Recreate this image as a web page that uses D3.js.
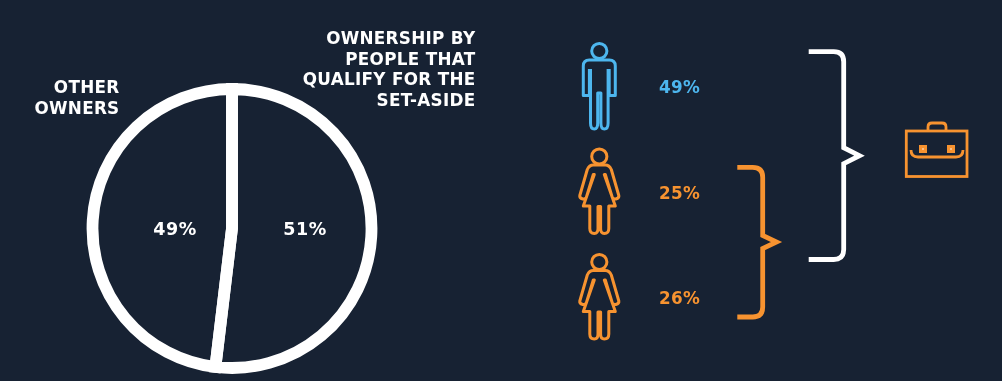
<!DOCTYPE html>
<html><head><meta charset="utf-8">
<script src="https://cdn.jsdelivr.net/npm/d3@7/dist/d3.min.js"></script>
<style>html,body{margin:0;padding:0;background:#172233;overflow:hidden}svg{display:block;filter:blur(0.35px)}text{font-family:"DejaVu Sans",sans-serif;font-weight:700}</style>
</head><body><svg id="c" width="1002" height="381"></svg>
<script>
// Ownership split: printed labels, and the shares as the slices are actually drawn
const pieCategories = ["Ownership by people that qualify for the set-aside", "Other owners"];
const pieLabels = ["51%", "49%"];
const pieDrawnShares = [51.9, 48.1];
const titleRight = ["OWNERSHIP BY", "PEOPLE THAT", "QUALIFY FOR THE", "SET-ASIDE"];
const titleLeft = ["OTHER", "OWNERS"];
// Breakdown of owners
const peopleKeys = ["a", "b", "c"];
const peopleKinds = ["man", "woman", "woman"];
const peopleValues = [49, 25, 26];

const BG = "#172233", WHITE = "#ffffff", ORANGE = "#f79330", BLUE = "#4db6ee";
const svg = d3.select("#c");
svg.append("rect").attr("width", 1002).attr("height", 381).attr("fill", BG);

// Pie
const pieG = svg.append("g").attr("transform", "translate(232,228.5)");
const pie = d3.pie().sort(null).value(d => d);
const arc = d3.arc().innerRadius(0).outerRadius(139.5);
const arcs = pie(pieDrawnShares);
pieG.selectAll("path").data(arcs).join("path")
  .attr("d", arc).attr("fill", "none").attr("stroke", WHITE)
  .attr("stroke-width", 11.8).attr("stroke-linejoin", "miter");
const labelX = d3.scaleOrdinal().domain(pieLabels).range([73, -57]);
pieG.selectAll("text").data(pieLabels).join("text")
  .attr("x", d => labelX(d)).attr("y", 6.5).attr("text-anchor", "middle")
  .attr("font-size", 17.5).attr("letter-spacing", 0.5).attr("fill", WHITE).text(d => d);

function block(lines, x, y0) {
  svg.append("g").selectAll("text").data(lines).join("text")
    .attr("x", x).attr("y", (d, i) => y0 + i * 20.5).attr("text-anchor", "end")
    .attr("font-size", 16.8).attr("letter-spacing", 0.3).attr("fill", WHITE).text(d => d);
}
block(titleRight, 475.5, 44);
block(titleLeft, 119.5, 93);

// People rows
const yRow = d3.scalePoint().domain(peopleKeys).range([87, 298]);
const icons = {
  man: "M-8.8,18V72Q-8.8,78 -5,78Q-1.6,78 -1.6,72V42H1.6V72Q1.6,78 5,78Q8.8,78 8.8,72V18M-9.9,18V44.5H-16V15Q-16,9 -10,9H10Q16,9 16,15V44.5H9.9V18",
  woman: "M-6,8.5H6Q10,8.5 12,13L19.5,39Q20,41.5 16.5,42.5Q14,43 13,41L6,18L5,18L16,49.5H9.5V72Q9.5,77 5,77Q1.3,77 1.3,72V50H-1.3V72Q-1.3,77 -5,77Q-9.5,77 -9.5,72V49.5H-16L-5,18L-6,18L-13,41Q-14,43 -16.5,42.5Q-20,41.5 -19.5,39L-12,13Q-10,8.5 -6,8.5Z"
};
const rows = svg.append("g").selectAll("g").data(peopleKeys).join("g")
  .attr("transform", k => `translate(0,${yRow(k)})`);
const color = (k, i) => peopleKinds[i] === "man" ? BLUE : ORANGE;
const iconG = rows.append("g").attr("transform", "translate(599.3,-36)")
  .attr("fill", "none").attr("stroke", color).attr("stroke-width", 3).attr("stroke-linejoin", "round");
iconG.append("circle").attr("r", 7.6);
iconG.append("path").attr("d", (k, i) => icons[peopleKinds[i]]);
rows.append("text").attr("x", 679.5).attr("y", 6).attr("text-anchor", "middle")
  .attr("font-size", 16.8).attr("letter-spacing", 0.3).attr("fill", color).text((k, i) => peopleValues[i] + "%");

// Braces
function brace(x0, x1, tip, y0, y1, ymid, h) {
  const r = 10;
  return `M${x0},${y0}H${x1 - r}Q${x1},${y0} ${x1},${y0 + r}V${ymid - h}L${tip},${ymid}L${x1},${ymid + h}V${y1 - r}Q${x1},${y1} ${x1 - r},${y1}H${x0}`;
}
svg.append("path").attr("d", brace(808.7, 843.7, 859.5, 51.7, 259.5, 155.7, 8))
  .attr("fill", "none").attr("stroke", WHITE).attr("stroke-width", 4.8);
svg.append("path").attr("d", brace(737.3, 762.7, 776.5, 167.3, 317, 242, 6.5))
  .attr("fill", "none").attr("stroke", ORANGE).attr("stroke-width", 4.8);

// Briefcase
const bc = svg.append("g").attr("fill", "none").attr("stroke", ORANGE).attr("stroke-width", 2.8);
bc.append("rect").attr("x", 906.3).attr("y", 131).attr("width", 60.7).attr("height", 45.5);
bc.append("path").attr("d", "M928,130V127Q928,123 932,123H942Q946,123 946,127V130");
bc.append("path").attr("d", "M911,150Q911,157 918,157H956Q963,157 963,150");
[923, 951].forEach(x => {
  svg.append("rect").attr("x", x - 4).attr("y", 145).attr("width", 8).attr("height", 8).attr("fill", ORANGE);
  svg.append("rect").attr("x", x - 1).attr("y", 148).attr("width", 2).attr("height", 2).attr("fill", "#fbc08a");
});
</script></body></html>
